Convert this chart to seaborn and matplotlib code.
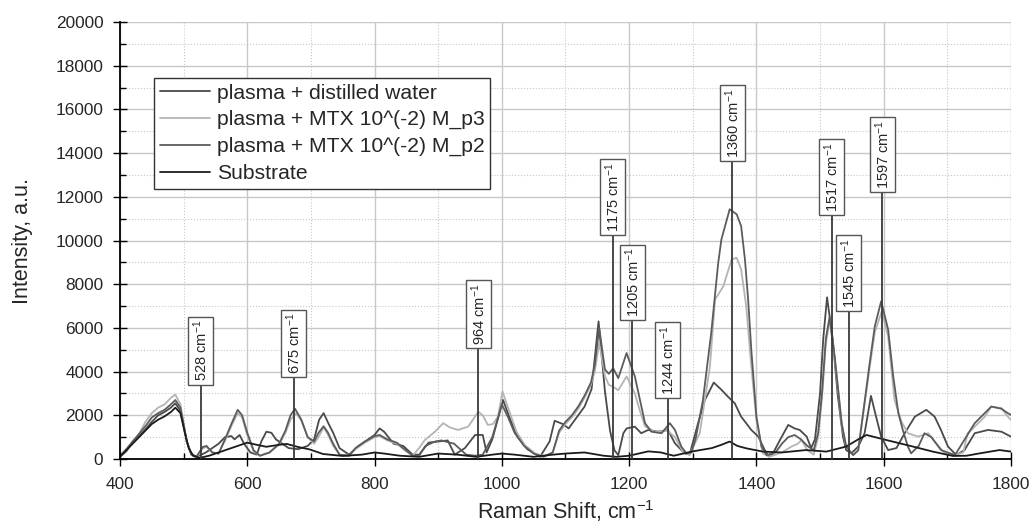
import matplotlib
matplotlib.use("Agg")
import matplotlib.pyplot as plt
from matplotlib.ticker import MultipleLocator
import seaborn as sns
import pandas as pd
import numpy as np

# Raman spectra (shift cm^-1, intensity a.u.)
water = [(400, 100), (410, 350), (420, 800), (430, 1050), (440, 1350), (450, 1700), (460, 2000),
         (470, 2150), (480, 2350), (487, 2550), (495, 2200), (500, 1500), (505, 800), (512, 250),
         (520, 100), (528, 200), (535, 300), (545, 500), (555, 700), (565, 1000), (575, 1050),
         (580, 900), (588, 1100), (595, 700), (605, 300), (615, 200), (622, 800), (630, 1250),
         (638, 1200), (645, 900), (655, 700), (665, 500), (680, 450), (695, 600), (705, 900),
         (713, 1800), (720, 2100), (728, 1600), (735, 1200), (745, 500), (760, 200), (775, 600),
         (790, 900), (800, 1100), (808, 1400), (815, 1250), (830, 700), (845, 600), (860, 200),
         (870, 200), (885, 750), (900, 800), (915, 850), (926, 200), (942, 500), (958, 1100),
         (970, 1100), (976, 300), (985, 900), (1002, 2700), (1012, 1900), (1025, 1000),
         (1040, 450), (1060, 100), (1075, 800), (1083, 1750), (1096, 1600), (1105, 1400),
         (1115, 1800), (1130, 2400), (1141, 3200), (1152, 6300), (1162, 3100), (1170, 1300),
         (1177, 400), (1183, 180), (1191, 1180), (1196, 1400), (1209, 1480), (1219, 1180),
         (1230, 1330), (1245, 1250), (1261, 1330), (1272, 720), (1287, 260), (1295, 200),
         (1308, 1600), (1319, 2700), (1333, 3500), (1345, 3170), (1355, 2860), (1366, 2550),
         (1376, 1940), (1392, 1330), (1403, 1025), (1413, 410), (1418, 180), (1425, 200),
         (1437, 870), (1450, 1560), (1460, 1400), (1468, 1330), (1479, 1025), (1486, 500),
         (1492, 900), (1500, 3000), (1505, 5500), (1511, 7400), (1520, 5460), (1528, 2860),
         (1536, 1025), (1541, 410), (1549, 260), (1560, 570), (1570, 1180), (1580, 2890),
         (1588, 1940), (1596, 1025), (1607, 410), (1620, 500), (1633, 1180), (1649, 1940),
         (1667, 2250), (1680, 1940), (1690, 1330), (1701, 570), (1714, 180), (1727, 410),
         (1743, 1180), (1764, 1330), (1785, 1250), (1800, 1025)]

mtx_p3 = [(400, 100), (410, 400), (420, 800), (430, 1150), (440, 1700), (450, 2100), (460, 2350),
          (470, 2500), (480, 2800), (487, 2950), (495, 2500), (500, 1600), (505, 800), (512, 200),
          (520, 50), (530, 500), (536, 550), (545, 300), (555, 250), (565, 850), (575, 1500),
          (585, 2100), (592, 1900), (600, 1100), (610, 350), (620, 150), (635, 300), (650, 650),
          (660, 1200), (668, 1800), (677, 2100), (685, 1750), (695, 1000), (705, 700), (712, 1000),
          (720, 1450), (727, 1100), (735, 600), (745, 200), (760, 150), (770, 450), (785, 750),
          (800, 1000), (808, 1050), (820, 850), (835, 700), (845, 450), (860, 150), (870, 500),
          (879, 870), (895, 1250), (908, 1640), (918, 1450), (931, 1330), (947, 1480), (957, 1900),
          (963, 2170), (970, 2000), (978, 1560), (986, 1600), (994, 1940), (1001, 3090),
          (1010, 2330), (1023, 1250), (1036, 640), (1052, 260), (1068, 110), (1080, 300),
          (1090, 1200), (1100, 1600), (1110, 1900), (1120, 2300), (1130, 2800), (1140, 3400),
          (1146, 4000), (1153, 5300), (1162, 3800), (1168, 3400), (1175, 3300), (1183, 3150),
          (1196, 3780), (1209, 3000), (1217, 2200), (1225, 1500), (1240, 1250), (1260, 1300),
          (1272, 1000), (1285, 300), (1295, 200), (1311, 1180), (1327, 4240), (1335, 7300),
          (1348, 7900), (1361, 9130), (1369, 9210), (1376, 8680), (1384, 7000), (1392, 4240),
          (1400, 1790), (1410, 260), (1420, 100), (1440, 300), (1455, 570), (1465, 700),
          (1471, 870), (1480, 400), (1490, 200), (1497, 1000), (1503, 2800), (1509, 5200),
          (1515, 6400), (1523, 4600), (1534, 1600), (1541, 550), (1552, 180), (1560, 400),
          (1567, 1900), (1578, 4200), (1586, 5800), (1597, 6760), (1607, 5600), (1617, 2700),
          (1628, 1710), (1638, 1180), (1654, 1025), (1670, 1180), (1680, 800), (1696, 260),
          (1712, 180), (1725, 300), (1732, 1180), (1743, 1480), (1759, 1940), (1769, 2400),
          (1785, 2330), (1795, 1940), (1800, 1790)]

mtx_p2 = [(400, 150), (410, 450), (420, 800), (430, 1150), (440, 1500), (450, 1900), (460, 2100),
          (470, 2250), (480, 2500), (487, 2700), (495, 2350), (500, 1600), (505, 800), (512, 200),
          (520, 100), (530, 550), (536, 600), (545, 300), (555, 250), (565, 900), (575, 1600),
          (585, 2250), (592, 2000), (600, 1200), (610, 400), (620, 150), (635, 300), (650, 700),
          (660, 1300), (668, 2000), (675, 2300), (685, 1800), (695, 1000), (705, 800), (712, 1200),
          (720, 1500), (727, 1200), (735, 700), (745, 200), (760, 150), (770, 500), (785, 800),
          (800, 1050), (808, 1100), (820, 900), (835, 750), (845, 500), (860, 150), (870, 150),
          (880, 600), (895, 800), (905, 850), (925, 700), (944, 200), (958, 150), (970, 200),
          (985, 1000), (1000, 2500), (1010, 1900), (1020, 1200), (1035, 600), (1050, 250),
          (1065, 100), (1080, 300), (1090, 1300), (1100, 1700), (1110, 2000), (1120, 2400),
          (1130, 2900), (1140, 3500), (1146, 4300), (1153, 6000), (1162, 4100), (1168, 3900),
          (1175, 4150), (1183, 3700), (1196, 4850), (1209, 3780), (1217, 2700), (1225, 1640),
          (1235, 1250), (1251, 1180), (1264, 1640), (1272, 1330), (1282, 570), (1290, 260),
          (1298, 300), (1305, 1000), (1316, 2700), (1329, 5770), (1340, 8980), (1345, 10050),
          (1358, 11430), (1369, 11200), (1376, 10660), (1382, 9130), (1387, 7300), (1392, 5000),
          (1400, 1940), (1408, 570), (1416, 180), (1430, 300), (1440, 700), (1450, 1000),
          (1460, 1100), (1470, 900), (1480, 600), (1490, 400), (1497, 1200), (1503, 3000),
          (1509, 5500), (1515, 6500), (1523, 4700), (1534, 1640), (1541, 570), (1552, 180),
          (1560, 400), (1567, 1940), (1578, 4390), (1586, 6070), (1596, 7220), (1607, 5920),
          (1615, 3780), (1623, 2100), (1630, 1330), (1638, 570), (1643, 260), (1655, 600),
          (1664, 1180), (1675, 1000), (1690, 410), (1712, 180), (1730, 1025), (1743, 1640),
          (1769, 2400), (1785, 2300), (1795, 2100), (1800, 2020)]

substrate = [(400, 100), (420, 700), (440, 1300), (450, 1600), (460, 1800), (470, 1950),
             (480, 2150), (487, 2350), (495, 2100), (502, 1200), (508, 500), (515, 150), (525, 50),
             (540, 150), (560, 350), (580, 550), (600, 750), (615, 650), (630, 560), (650, 650),
             (662, 690), (680, 550), (698, 440), (719, 230), (750, 140), (780, 200), (800, 300),
             (815, 250), (840, 150), (870, 100), (900, 250), (930, 200), (960, 100), (985, 200),
             (1000, 250), (1020, 200), (1050, 100), (1080, 200), (1100, 250), (1130, 300),
             (1160, 150), (1180, 100), (1200, 150), (1230, 350), (1250, 300), (1270, 150),
             (1300, 350), (1330, 500), (1345, 650), (1358, 800), (1370, 600), (1384, 490),
             (1410, 340), (1440, 300), (1478, 410), (1510, 340), (1541, 570), (1560, 900),
             (1573, 1100), (1604, 870), (1646, 570), (1677, 340), (1709, 140), (1730, 150),
             (1751, 260), (1782, 410), (1800, 340)]

labels = ["plasma + distilled water", "plasma + MTX 10^(-2) M_p3",
          "plasma + MTX 10^(-2) M_p2", "Substrate"]
colors = ["#4a4a4a", "#b4b4b4", "#5c5c5c", "#1c1c1c"]

# marked bands: line position, label text, height of the label box centre
peak_pos = [527, 673, 963, 1174, 1205, 1261, 1362, 1518, 1545, 1598]
peak_text = ["528", "675", "964", "1175", "1205", "1244", "1360", "1517", "1545", "1597"]
peak_box_y = [4950, 5280, 6630, 11980, 8080, 4530, 15380, 12900, 8500, 13940]

frames = []
for name, pts in zip(labels, [water, mtx_p3, mtx_p2, substrate]):
    arr = np.array(pts)
    frames.append(pd.DataFrame({"shift": arr[:, 0], "intensity": arr[:, 1], "sample": name}))
df = pd.concat(frames, ignore_index=True)

sns.set_theme(style="white")
plt.rcParams["font.family"] = ["Liberation Sans", "DejaVu Sans"]
plt.rcParams["mathtext.default"] = "regular"

fig = plt.figure(figsize=(10.35, 5.29), dpi=100)
ax = fig.add_axes([0.1159, 0.1323, 0.8609, 0.8261])

sns.lineplot(data=df, x="shift", y="intensity", hue="sample", hue_order=labels,
             palette=dict(zip(labels, colors)), estimator=None, linewidth=1.3, ax=ax)

# peak markers with boxed, rotated labels
for x, t, yc in zip(peak_pos, peak_text, peak_box_y):
    ax.plot([x, x], [0, yc], color="#3a3a3a", lw=1.3, zorder=4)
    ax.text(x, yc, t + r" cm$^{-1}$", rotation=90, ha="center", va="center", fontsize=10.5,
            zorder=5, bbox=dict(boxstyle="square,pad=0.22", fc="white", ec="#555555", lw=1))

ax.set_xlim(400, 1800)
ax.set_ylim(0, 20000)
ax.xaxis.set_major_locator(MultipleLocator(200))
ax.xaxis.set_minor_locator(MultipleLocator(100))
ax.yaxis.set_major_locator(MultipleLocator(2000))
ax.yaxis.set_minor_locator(MultipleLocator(1000))

ax.set_axisbelow(True)
ax.grid(which="major", color="#c8c8c8", lw=1, ls="-")
ax.grid(which="minor", color="#c8c8c8", lw=0.8, ls=":")

for side in ["top", "right"]:
    ax.spines[side].set_visible(False)
for side in ["left", "bottom"]:
    ax.spines[side].set_color("black")
    ax.spines[side].set_linewidth(1.3)

ax.tick_params(which="major", direction="inout", length=10, width=1, color="black",
               labelsize=12.4, pad=7, left=True, bottom=True)
ax.tick_params(which="minor", direction="in", length=4, width=1, color="black",
               left=True, bottom=True)
ax.tick_params(axis="x", which="major", pad=8)

ax.set_xlabel(r"Raman Shift, cm$^{-1}$", fontsize=15.5, labelpad=4)
ax.set_ylabel("Intensity, a.u.", fontsize=15.5, labelpad=16)

handles, labs = ax.get_legend_handles_labels()
leg = ax.legend(handles, labs, loc="upper left", bbox_to_anchor=(0.038, 0.8725),
                borderaxespad=0, fontsize=15.2, frameon=True, fancybox=False,
                framealpha=1, edgecolor="#333333", handlelength=2.4, handletextpad=0.3,
                labelspacing=0.36, borderpad=0.28)
leg.get_frame().set_linewidth(1)
for line in leg.get_lines():
    line.set_linewidth(1.3)

fig.savefig("out.png", dpi=100)
